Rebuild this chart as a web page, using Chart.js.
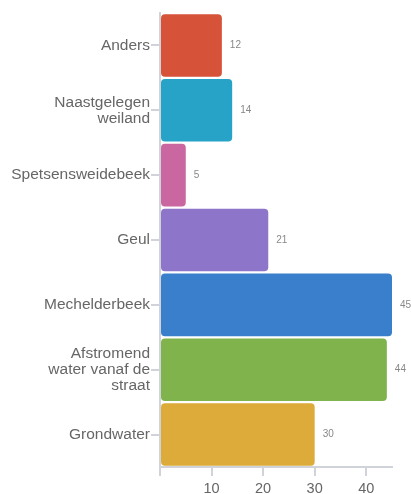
<!DOCTYPE html>
<html>
<head>
<meta charset="utf-8">
<script src="https://cdn.jsdelivr.net/npm/chart.js@4/dist/chart.umd.min.js"></script>
<style>
  html, body { margin: 0; padding: 0; background: #fff; }
  #wrap { width: 411px; height: 494px; }
</style>
</head>
<body>
<div id="wrap"><canvas id="grafiek"></canvas></div>
<script>
// Categorieën en waarden
const categorieen = [
    'Anders',
    ['Naastgelegen', 'weiland'],
    'Spetsensweidebeek',
    'Geul',
    'Mechelderbeek',
    ['Afstromend', 'water vanaf de', 'straat'],
    'Grondwater'
];
const aantallen = [12, 14, 5, 21, 45, 44, 30];
const kleuren = ['#D6533A', '#27A3C7', '#CB67A0', '#8D76C9', '#3A7FCB', '#80B34C', '#DCAB3A'];
const xTicks = [0, 10, 20, 30, 40];

const lettertype = '"Liberation Sans", Arial, sans-serif';

// Plugin voor de getallen naast de balken
const waardeLabels = {
    id: 'waardeLabels',
    afterDatasetsDraw(chart) {
        const ctx = chart.ctx;
        const meta = chart.getDatasetMeta(0);
        ctx.save();
        ctx.font = '10px ' + lettertype;
        ctx.fillStyle = '#888';
        ctx.textBaseline = 'middle';
        ctx.textAlign = 'left';
        meta.data.forEach((bar, i) => {
            ctx.fillText(String(aantallen[i]), bar.x + 8, bar.y);
        });
        ctx.restore();
    }
};

const ctx = document.getElementById('grafiek').getContext('2d');
new Chart(ctx, {
    type: 'bar',
    data: {
        labels: categorieen,
        datasets: [{
            data: aantallen,
            backgroundColor: kleuren,
            borderRadius: 4,
            borderSkipped: false,
            barPercentage: 0.965,
            categoryPercentage: 1
        }]
    },
    options: {
        indexAxis: 'y',
        responsive: true,
        maintainAspectRatio: false,
        animation: false,
        layout: { padding: { top: 13, right: 19, left: 0, bottom: 0 } },
        plugins: {
            legend: { display: false },
            tooltip: { enabled: false }
        },
        scales: {
            x: {
                min: 0,
                max: 45,
                afterBuildTicks(scale) {
                    scale.ticks = xTicks.map(v => ({ value: v }));
                },
                afterFit(scale) { scale.height = 27; },
                border: { color: '#d0d4da', width: 2 },
                grid: { drawOnChartArea: false, drawTicks: true, tickLength: 9, color: '#d0d4da', lineWidth: 2 },
                ticks: {
                    color: '#666',
                    font: { size: 14.5, family: lettertype },
                    padding: 4,
                    callback: (v) => v === 0 ? '' : v
                }
            },
            y: {
                afterFit(scale) { scale.width = 160; },
                border: { color: '#d0d4da', width: 2 },
                grid: { drawOnChartArea: false, drawTicks: true, tickLength: 9, color: '#d0d4da', lineWidth: 2, offset: false },
                ticks: {
                    color: '#666',
                    font: { size: 15.5, family: lettertype, lineHeight: 1.03 },
                    padding: 1
                }
            }
        }
    },
    plugins: [waardeLabels]
});
</script>
</body>
</html>
